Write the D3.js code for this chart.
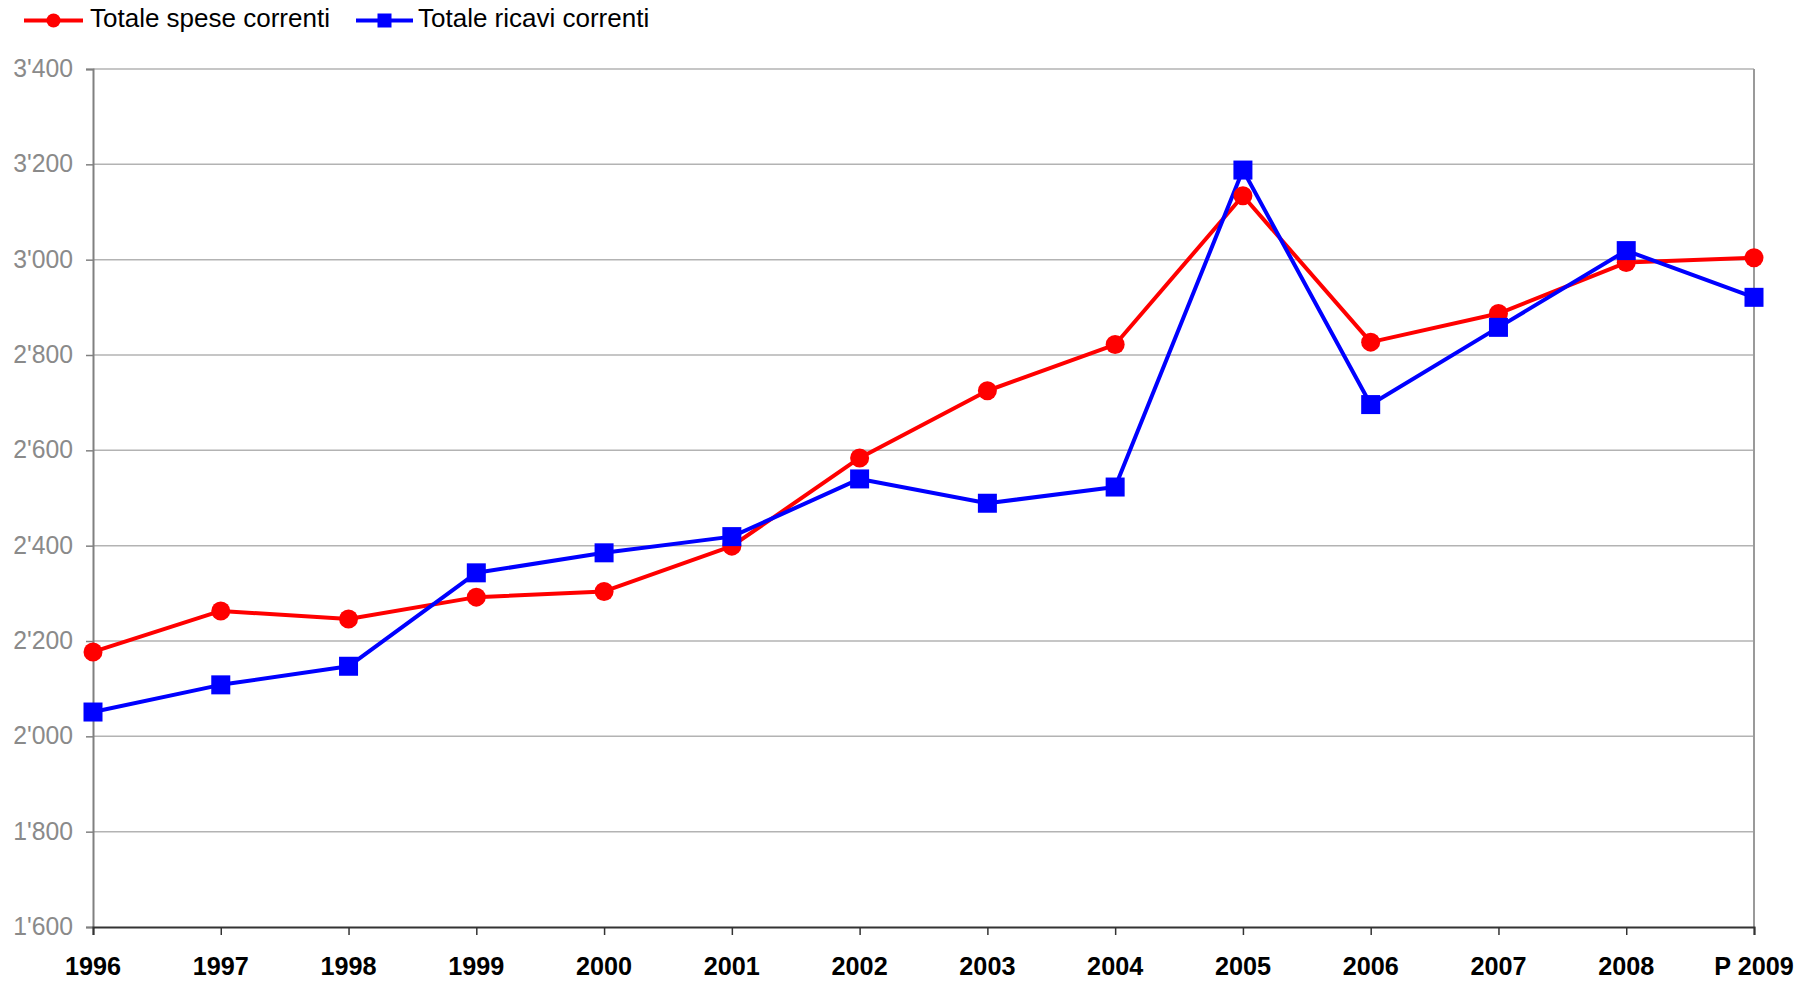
<!DOCTYPE html>
<html>
<head>
<meta charset="utf-8">
<script src="https://cdn.jsdelivr.net/npm/d3@7"></script>
<style>
  body { margin: 0; background: #fff; }
  svg { display: block; }
</style>
</head>
<body>
<div id="chart"></div>
<script>
// data
const years = ["1996", "1997", "1998", "1999", "2000", "2001", "2002", "2003", "2004", "2005", "2006", "2007", "2008", "P 2009"];
const speseCorrenti = [2177, 2263, 2246, 2292, 2304, 2399, 2584, 2725, 2822, 3134, 2827, 2887, 2994, 3004];
const ricaviCorrenti = [2051, 2108, 2147, 2343, 2385, 2419, 2540, 2489, 2523, 3188, 2696, 2858, 3019, 2921];
const yTicks = [1600, 1800, 2000, 2200, 2400, 2600, 2800, 3000, 3200, 3400];

const series = [
    { name: "Totale spese correnti", values: speseCorrenti, color: "#ff0000", marker: "circle" },
    { name: "Totale ricavi correnti", values: ricaviCorrenti, color: "#0000ff", marker: "square" }
];

const width = 1816, height = 981;
const plot = { left: 93, right: 1754, top: 69, bottom: 927 };

const svg = d3.select("#chart").append("svg")
    .attr("width", width)
    .attr("height", height);

const x = d3.scalePoint()
    .domain(years)
    .range([plot.left, plot.right]);

const y = d3.scaleLinear()
    .domain([1600, 3400])
    .range([plot.bottom, plot.top]);

// apostrophe as thousands separator
const fmt = d => {
    const s = String(d);
    return s.length > 3 ? s.slice(0, s.length - 3) + "'" + s.slice(-3) : s;
};

// gridlines
svg.append("g")
    .selectAll("line")
    .data(yTicks.filter(t => t > 1600))
    .enter()
    .append("line")
        .attr("x1", plot.left)
        .attr("x2", plot.right)
        .attr("y1", d => y(d))
        .attr("y2", d => y(d))
        .attr("stroke", "#b3b3b3")
        .attr("stroke-width", 1.5);

// right border
svg.append("line")
    .attr("x1", plot.right).attr("x2", plot.right)
    .attr("y1", plot.top).attr("y2", plot.bottom)
    .attr("stroke", "#9a9a9a")
    .attr("stroke-width", 2);

// Y axis
const yAxis = svg.append("g")
    .attr("transform", `translate(${plot.left},0)`)
    .call(d3.axisLeft(y).tickValues(yTicks).tickSize(7).tickFormat(""));
yAxis.select(".domain").attr("stroke", "#808080").attr("stroke-width", 2);
yAxis.selectAll(".tick line").attr("stroke", "#808080").attr("stroke-width", 1.5);

svg.append("g")
    .selectAll("text")
    .data(yTicks)
    .enter()
    .append("text")
        .attr("transform", d => `translate(73,${y(d) + 8}) scale(0.99,1)`)
        .attr("text-anchor", "end")
        .style("font-family", "'Liberation Sans', Arial, sans-serif")
        .style("font-size", "25px")
        .attr("fill", "#8a8a8a")
        .text(fmt);

// X axis
const xAxis = svg.append("g")
    .attr("transform", `translate(0,${plot.bottom})`)
    .call(d3.axisBottom(x).tickSize(8).tickFormat(""));
xAxis.select(".domain").attr("stroke", "#333").attr("stroke-width", 2);
xAxis.selectAll(".tick line").attr("stroke", "#333").attr("stroke-width", 1.5);

svg.append("g")
    .selectAll("text")
    .data(years)
    .enter()
    .append("text")
        .attr("transform", d => `translate(${x(d)},975) scale(0.97,1)`)
        .attr("text-anchor", "middle")
        .style("font-family", "'Liberation Sans', Arial, sans-serif")
        .style("font-size", "26px")
        .style("font-weight", "bold")
        .attr("fill", "#000")
        .text(d => d);

// lines and markers
const line = d3.line()
    .x((d, i) => x(years[i]))
    .y(d => y(d));

series.forEach(s => {
    svg.append("path")
        .datum(s.values)
        .attr("d", line)
        .attr("fill", "none")
        .attr("stroke", s.color)
        .attr("stroke-width", 4)
        .attr("stroke-linejoin", "round");
});

series.forEach(s => {
    const g = svg.append("g");
    if (s.marker === "circle") {
        g.selectAll("circle")
            .data(s.values)
            .enter()
            .append("circle")
                .attr("cx", (d, i) => x(years[i]))
                .attr("cy", d => y(d))
                .attr("r", 9.5)
                .attr("fill", s.color);
    } else {
        g.selectAll("rect")
            .data(s.values)
            .enter()
            .append("rect")
                .attr("x", (d, i) => x(years[i]) - 9.5)
                .attr("y", d => y(d) - 9.5)
                .attr("width", 19)
                .attr("height", 19)
                .attr("fill", s.color);
    }
});

// legend
const legendPos = [{ x1: 24, x2: 83, tx: 90 }, { x1: 356, x2: 413, tx: 418 }];
series.forEach((s, i) => {
    const p = legendPos[i];
    const g = svg.append("g");
    const cy = 20.5;
    g.append("line")
        .attr("x1", p.x1).attr("x2", p.x2)
        .attr("y1", cy).attr("y2", cy)
        .attr("stroke", s.color)
        .attr("stroke-width", 4);
    const cx = (p.x1 + p.x2) / 2;
    if (s.marker === "circle") {
        g.append("circle").attr("cx", cx).attr("cy", cy).attr("r", 7).attr("fill", s.color);
    } else {
        g.append("rect").attr("x", cx - 7).attr("y", cy - 7).attr("width", 14).attr("height", 14).attr("fill", s.color);
    }
    g.append("text")
        .attr("transform", `translate(${p.tx},27)`)
        .style("font-family", "'Liberation Sans', Arial, sans-serif")
        .style("font-size", "26px")
        .attr("fill", "#000")
        .text(s.name);
});
</script>
</body>
</html>
